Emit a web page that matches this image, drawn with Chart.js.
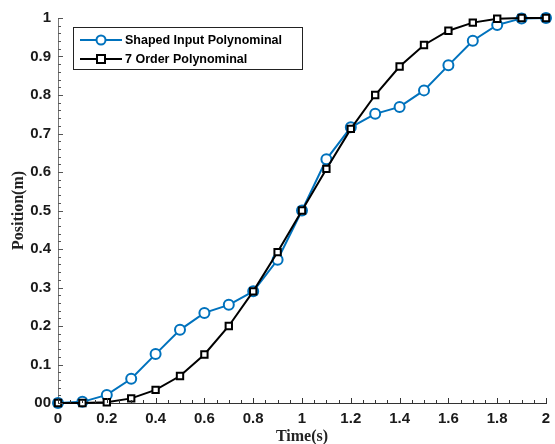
<!DOCTYPE html>
<html>
<head>
<meta charset="utf-8">
<script src="https://cdn.jsdelivr.net/npm/chart.js@4/dist/chart.umd.min.js"></script>
<style>
html,body{margin:0;padding:0;background:#fff;}
#wrap{position:relative;width:555px;height:444px;}
canvas{display:block;}
</style>
</head>
<body>
<div id="wrap"><canvas id="c" width="555" height="444"></canvas></div>
<script>
// ---- data ----
const times = [0,0.1,0.2,0.3,0.4,0.5,0.6,0.7,0.8,0.9,1.0,1.1,1.2,1.3,1.4,1.5,1.6,1.7,1.8,1.9,2.0];
const shapedInput = [0,0.003,0.021,0.063,0.127,0.19,0.234,0.255,0.29,0.372,0.5,0.633,0.716,0.751,0.769,0.812,0.877,0.941,0.982,0.999,1.0];
const order7 = [0,0,0.002,0.012,0.034,0.07,0.126,0.2,0.29,0.392,0.5,0.608,0.712,0.8,0.874,0.93,0.967,0.988,0.998,1.0,1.0];
const seriesNames = ['Shaped Input Polynominal','7 Order Polynominal'];
const xTickLabels = ['0','0.2','0.4','0.6','0.8','1','1.2','1.4','1.6','1.8','2'];
const yTickLabels = ['00','0.1','0.2','0.3','0.4','0.5','0.6','0.7','0.8','0.9','1'];
const xTitle = 'Time(s)';
const yTitle = 'Position(m)';

const BLUE = 'rgb(0,114,189)';
const BLACK = '#000';

function pts(ys){ return times.map((t,i)=>({x:t,y:ys[i]})); }

// inward ticks (major + minor) drawn from the scales
const innerTicks = {
  id:'innerTicks',
  afterDraw(chart){
    const ctx = chart.ctx, xs = chart.scales.x, ys = chart.scales.y, a = chart.chartArea;
    ctx.save();
    ctx.lineWidth = 1;
    ctx.strokeStyle = '#555';
    ys.ticks.forEach((t,i)=>{
      const y = Math.round(ys.getPixelForValue(t.value))+0.5;
      const len = (i%5===0)?5:3;
      ctx.beginPath(); ctx.moveTo(a.left, y); ctx.lineTo(a.left+len, y); ctx.stroke();
    });
    ctx.strokeStyle = '#333';
    xs.ticks.forEach((t,i)=>{
      const x = Math.round(xs.getPixelForValue(t.value))+0.5;
      const len = (i%4===0)?5:3;
      ctx.beginPath(); ctx.moveTo(x, a.bottom); ctx.lineTo(x, a.bottom-len); ctx.stroke();
    });
    ctx.restore();
  }
};

// legend box inside the plot
const boxLegend = {
  id:'boxLegend',
  afterDraw(chart){
    const ctx = chart.ctx;
    const L=73.5, T=27.5, W=229, H=42;
    ctx.save();
    ctx.fillStyle='#fff'; ctx.fillRect(L,T,W,H);
    ctx.strokeStyle='#222'; ctx.lineWidth=1; ctx.strokeRect(L,T,W,H);
    const rows=[{y:40,c:BLUE,m:'circle'},{y:59,c:BLACK,m:'rect'}];
    rows.forEach((r,i)=>{
      ctx.strokeStyle=r.c; ctx.lineWidth=2;
      ctx.beginPath(); ctx.moveTo(80,r.y); ctx.lineTo(122,r.y); ctx.stroke();
      ctx.fillStyle='#fff';
      if(r.m==='circle'){
        ctx.beginPath(); ctx.arc(101,r.y,4.5,0,Math.PI*2); ctx.fill(); ctx.stroke();
      } else {
        ctx.fillRect(97,r.y-4,8,8); ctx.strokeRect(97,r.y-4,8,8);
      }
      ctx.fillStyle='#000';
      ctx.font='bold 12.5px "Liberation Sans", Arial, sans-serif';
      ctx.textBaseline='middle'; ctx.textAlign='left';
      ctx.fillText(seriesNames[i],125,r.y+0.5);
    });
    ctx.restore();
  }
};

new Chart(document.getElementById('c'),{
  type:'line',
  data:{
    datasets:[
      {label:seriesNames[0],data:pts(shapedInput),borderColor:BLUE,borderWidth:2,
       pointStyle:'circle',pointRadius:5,pointBorderWidth:2,pointBackgroundColor:'#fff',pointBorderColor:BLUE,
       tension:0,clip:false,order:1},
      {label:seriesNames[1],data:pts(order7),borderColor:BLACK,borderWidth:2,
       pointStyle:'rect',pointRadius:4.5,pointBorderWidth:2,pointBackgroundColor:'#fff',pointBorderColor:BLACK,
       tension:0,clip:false,order:0}
    ]
  },
  options:{
    responsive:false,
    animation:false,
    events:[],
    layout:{padding:{top:18,right:9,left:0,bottom:0}},
    plugins:{legend:{display:false},tooltip:{enabled:false}},
    scales:{
      x:{
        type:'linear',min:0,max:2,
        afterFit(s){ s.height=41; s.paddingRight=0; s.paddingLeft=0; },
        grid:{display:true,drawOnChartArea:false,drawTicks:false},
        border:{display:true,color:'#333',width:1},
        ticks:{stepSize:0.05,autoSkip:false,maxRotation:0,padding:7,color:'#1a1a1a',
          font:{family:'"Liberation Sans", Arial, sans-serif',size:15,weight:'bold'},
          callback:(v,i)=> i%4===0 ? xTickLabels[i/4] : ''},
        title:{display:true,text:xTitle,color:'#222',padding:{top:0,bottom:0},
          font:{family:'"Liberation Serif", "Times New Roman", serif',size:16,weight:'bold',lineHeight:0.9}}
      },
      y:{
        type:'linear',min:0,max:1,
        afterFit(s){ s.width=58; },
        grid:{display:true,drawOnChartArea:false,drawTicks:false},
        border:{display:true,color:'#777',width:1},
        ticks:{stepSize:0.02,autoSkip:false,padding:7,color:'#1a1a1a',
          font:{family:'"Liberation Sans", Arial, sans-serif',size:15,weight:'bold'},
          callback:(v,i)=> i%5===0 ? yTickLabels[i/5] : ''},
        title:{display:true,text:yTitle,color:'#222',padding:{top:11,bottom:0},
          font:{family:'"Liberation Serif", "Times New Roman", serif',size:16,weight:'bold',lineHeight:1}}
      }
    }
  },
  plugins:[innerTicks,boxLegend]
});
</script>
</body>
</html>
